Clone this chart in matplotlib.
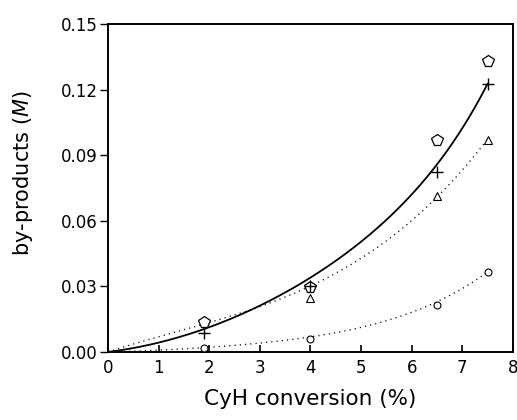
import numpy as np
import matplotlib
matplotlib.use("Agg")
import matplotlib.pyplot as plt

# data
conv = [1.9, 4.0, 6.5, 7.5]
pentagon_y = [0.0137, 0.0297, 0.097, 0.133]
plus_y = [0.0087, 0.0300, 0.0823, 0.1226]
tri_conv = [4.0, 6.5, 7.5]
tri_y = [0.0247, 0.0713, 0.097]
circ_y = [0.0018, 0.0060, 0.0215, 0.0366]

# model curves: coefficients and powers of x
fit_solid = [0.002897, 0.001383, 1.729e-8]
pow_solid = [1, 2, 7]
fit_dot_upper = [0.0076, -0.000852, 0.000209]
pow_dot_upper = [1, 2, 3]
fit_dot_lower = [0.000607, 0.000227, 8.11e-7]
pow_dot_lower = [1, 2, 5]

xticks = [0, 1, 2, 3, 4, 5, 6, 7, 8]
yticks = [0.00, 0.03, 0.06, 0.09, 0.12, 0.15]


def model(c, p, x):
    return sum(ci * x ** pi for ci, pi in zip(c, p))


fig = plt.figure(figsize=(5.17, 4.20), dpi=100)
ax = fig.add_axes([0.209, 0.162, 0.783, 0.781])

xs = np.linspace(0, 7.5, 300)
ax.plot(xs, model(fit_solid, pow_solid, xs), color="black", lw=1.3, zorder=2)
ax.plot(xs, model(fit_dot_upper, pow_dot_upper, xs), color="black", lw=1.0,
        dashes=(0.8, 3.0), zorder=2)
ax.plot(xs, model(fit_dot_lower, pow_dot_lower, xs), color="black", lw=1.0,
        dashes=(0.8, 3.0), zorder=2)

ax.plot(conv, pentagon_y, linestyle="none", marker="p", markersize=8.5,
        markerfacecolor="white", markeredgecolor="black", markeredgewidth=0.9, zorder=3)
ax.plot(conv, plus_y, linestyle="none", marker="+", markersize=9,
        color="black", markeredgewidth=1.0, zorder=4)
ax.plot(tri_conv, tri_y, linestyle="none", marker="^", markersize=6,
        markerfacecolor="white", markeredgecolor="black", markeredgewidth=0.8, zorder=3)
ax.plot(conv, circ_y, linestyle="none", marker="o", markersize=5,
        markerfacecolor="white", markeredgecolor="black", markeredgewidth=0.8, zorder=3)

ax.set_xlim(0, 8)
ax.set_ylim(0, 0.15)
ax.set_xticks(xticks)
ax.set_yticks(yticks)
ax.set_xticklabels([str(t) for t in xticks])
ax.set_yticklabels(["%.2f" % t for t in yticks])
ax.tick_params(axis="x", direction="in", length=5, width=1.2, labelsize=12, pad=5)
ax.tick_params(axis="y", direction="out", length=6, width=1.0, labelsize=12, pad=1.5)
for s in ax.spines.values():
    s.set_linewidth(1.4)

ax.set_xlabel("CyH conversion (%)", fontsize=15.5, labelpad=9)
ax.set_ylabel("by-products (" + r"$\mathit{M}$" + ")", fontsize=15)
ax.yaxis.set_label_coords(-0.18, 0.544)

fig.savefig("out.png", dpi=100)
